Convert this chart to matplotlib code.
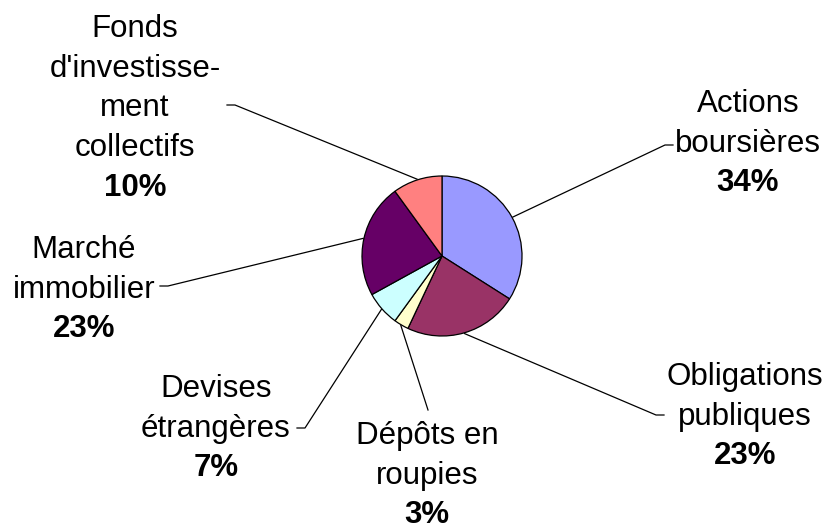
import numpy as np
import matplotlib.pyplot as plt

plt.rcParams['font.family'] = ['Liberation Sans', 'DejaVu Sans']

# data
labels = ['Actions\nboursières', 'Obligations\npubliques', 'Dépôts en\nroupies',
          'Devises\nétrangères', 'Marché\nimmobilier',
          "Fonds\nd'investisse-\nment\ncollectifs"]
values = [34, 23, 3, 7, 23, 10]
colors = ['#9999FF', '#993366', '#FFFFCC', '#CCFFFF', '#660066', '#FF8080']

# layout (image pixel coords, y measured from top)
H = 527
text_x = [748, 745, 427, 216, 84, 135]
text_top = [112, 385, 444, 397, 258, 37]   # baseline of first line
line_end = [(673, 145), (664, 415), (428, 410), (297, 428), (160, 286), (227, 105)]
stub = [-8, -8, 0, 8, 8, 8]
step = 39.7

fig = plt.figure(figsize=(8.26, 5.27), dpi=100)
ax = fig.add_axes([0, 0, 1, 1])

wedges, _ = ax.pie(values, colors=colors, startangle=90, counterclock=False,
                   center=(442, H - 256), radius=80,
                   wedgeprops=dict(edgecolor='black', linewidth=0.9))
ax.set_xlim(0, 826)
ax.set_ylim(0, H)
ax.set_aspect('equal')
ax.axis('off')

for i, w in enumerate(wedges):
    # leader line from mid-angle of the wedge to the label
    mid = np.deg2rad((w.theta1 + w.theta2) / 2)
    cx, cy = w.center
    x0 = cx + w.r * 1.01 * np.cos(mid)
    y0 = cy + w.r * 1.01 * np.sin(mid)
    ex, ey = line_end[i]
    xs = [x0, ex + stub[i], ex]
    ys = [y0, H - ey, H - ey]
    ax.plot(xs, ys, color='black', linewidth=0.9)

    lines = labels[i].split('\n')
    for j, t in enumerate(lines):
        ax.text(text_x[i], H - (text_top[i] + j * step), t, ha='center',
                va='baseline', fontsize=22.5)
    ax.text(text_x[i], H - (text_top[i] + len(lines) * step), f'{values[i]}%',
            ha='center', va='baseline', fontsize=22.5, fontweight='bold')

fig.savefig('out.png', dpi=100)
